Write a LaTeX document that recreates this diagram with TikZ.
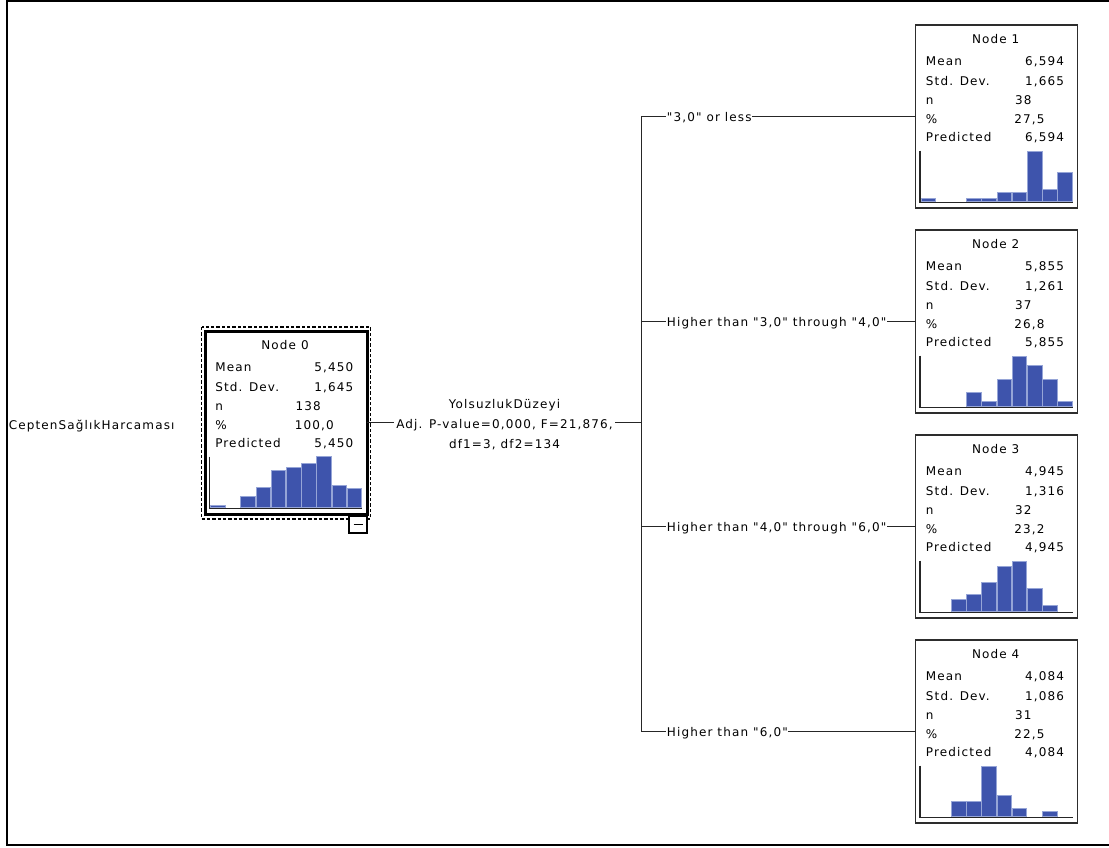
\documentclass[tikz,border=0pt]{standalone}
\usepackage{fontspec}
\newfontfamily\spssfamily[LetterSpace=9.5]{DejaVu Sans}
\usetikzlibrary{calc}
\definecolor{barblue}{RGB}{62,84,172}
\definecolor{barline}{RGB}{150,165,215}
\definecolor{boxgray}{RGB}{45,45,45}
\newcommand\spfont{\spssfamily\fontsize{9}{15}\selectfont}
\newcommand\fillnode[7]{%
\begin{scope}[shift={(#1.north west)}]
  \node[ttl] (#1-t) at (80,13.5) {#2};
  \node[lbl] (#1-ml) at (10,35) {Mean};
  \node[val] (#1-mv) at (148.6,35) {#3};
  \node[lbl] (#1-sl) at (10,55) {Std. Dev.};
  \node[val] (#1-sv) at (148.6,55) {#4};
  \node[lbl] (#1-nl) at (10,74) {n};
  \node[val] (#1-nv) at (116,74) {#5};
  \node[lbl] (#1-pl) at (10,92.5) {\%};
  \node[val] (#1-pv) at (129,92.5) {#6};
  \node[lbl] (#1-dl) at (10,111) {Predicted};
  \node[val] (#1-dv) at (148.6,111) {#3};
  \foreach \s/\h in {#7} {
    \filldraw[hbar] ({5.3+15.2*\s},176.5) rectangle ++(14.6,{-\h});
  }
  \draw[haxis] (4.3,125.7) -- (4.3,177.7) -- (157,177.7);
\end{scope}}
\begin{document}
\begin{tikzpicture}[x=0.75pt,y=-0.75pt,
  every node/.style={font=\spfont, text=black},
  leafbox/.style={draw=boxgray, line width=1.1pt, minimum width=121.5pt, minimum height=137.25pt, inner sep=0pt, outer sep=0pt, anchor=north west},
  rootbox/.style={leafbox, draw=black, line width=2.25pt},
  lbl/.style={inner sep=0pt, anchor=mid west, yshift=-2.2pt},
  val/.style={inner sep=0pt, anchor=mid east, yshift=-2.2pt},
  ttl/.style={inner sep=0pt, anchor=mid, yshift=-1.6pt},
  hbar/.style={fill=barblue, draw=barline, line width=0.6pt},
  haxis/.style={draw=black!85, line width=1pt},
  conn/.style={draw=black!85, line width=1pt},
  edgelbl/.style={fill=white, inner xsep=0.5pt, inner ysep=1pt, anchor=mid west, yshift=-1.5pt},
  splitlbl/.style={fill=white, align=center, inner xsep=1.5pt, inner ysep=0pt, yshift=-1.5pt},
  frame/.style={draw=black, line width=1.5pt},
  selbox/.style={draw=black, line width=0.8pt, dash pattern=on 2.5pt off 1.5pt},
  togbox/.style={draw=black, line width=0.8pt, fill=white, minimum width=13.5pt, minimum height=12.75pt, anchor=north west, inner sep=0pt, outer sep=0pt}]
\useasboundingbox (0,0) rectangle (1109,847);
\draw[frame] (1109,1.3) -- (7,1.3) -- (7,845) -- (1109,845);

% boxes
\draw[selbox] (201.5,327) rectangle (370.5,519);
\node[rootbox] (n0) at (205,331) {};
\node[leafbox] (n1) at (915.7,25) {};
\node[leafbox] (n2) at (915.7,230) {};
\node[leafbox] (n3) at (915.7,435) {};
\node[leafbox] (n4) at (915.7,640) {};
\node[togbox] (tog) at (349,516) {};
\draw[line width=0.8pt] ($(tog.center)+(-4.5,0)$) -- ($(tog.center)+(4.5,0)$);

\fillnode{n0}{Node 0}{5,450}{1,645}{138}{100,0}{0/1.7, 2/10.7, 3/20, 4/36.7, 5/40, 6/44.3, 7/50.7, 8/22, 9/18.7}
\fillnode{n1}{Node 1}{6,594}{1,665}{38}{27,5}{0/3.3, 3/3.3, 4/3.3, 5/9.3, 6/9.3, 7/50.3, 8/12.3, 9/29.3}
\fillnode{n2}{Node 2}{5,855}{1,261}{37}{26,8}{3/13.7, 4/4.7, 5/27.3, 6/50, 7/41, 8/27.3, 9/4.7}
\fillnode{n3}{Node 3}{4,945}{1,316}{32}{23,2}{2/12, 3/16.7, 4/28.7, 5/45.3, 6/50, 7/22.7, 8/6}
\fillnode{n4}{Node 4}{4,084}{1,086}{31}{22,5}{2/15.3, 3/15.3, 4/50, 5/21.3, 6/7.7, 8/4.7}

% connectors
\coordinate (split) at (641.5,422.5);
\draw[conn] (n0.east) -- (split);
\draw[conn] (split) |- (n1.west);
\draw[conn] (split) |- (n2.west);
\draw[conn] (split) |- (n3.west);
\draw[conn] (split) |- (n4.west);

% labels
\node[lbl] (dep) at (8.5,424) {CeptenSağlıkHarcaması};
\node[splitlbl] (sl) at (504.5,423) {YolsuzlukDüzeyi\\Adj. P-value=0,000, F=21,876,\\df1=3, df2=134};
\node[edgelbl] (e1) at (666,116.5) {"3,0" or less};
\node[edgelbl] (e2) at (666,321.5) {Higher than "3,0" through "4,0"};
\node[edgelbl] (e3) at (666,526.5) {Higher than "4,0" through "6,0"};
\node[edgelbl] (e4) at (666,731.5) {Higher than "6,0"};
\end{tikzpicture}
\end{document}
